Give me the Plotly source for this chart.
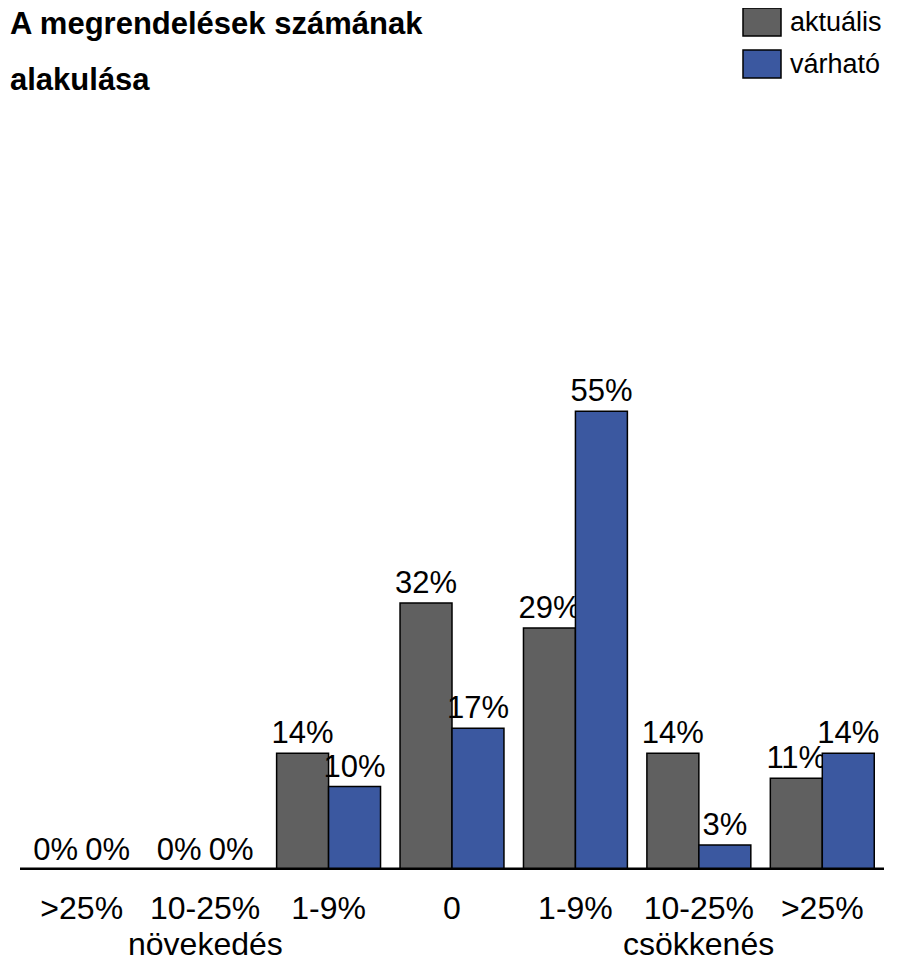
import plotly.graph_objects as go

# ============================================================================
# DATA
# ============================================================================

categories = ['>25%', '10-25%', '1-9%', '0', '1-9%', '10-25%', '>25%']
group_labels = {1: 'növekedés', 5: 'csökkenés'}

current_values = [0, 0, 14, 32, 29, 14, 11]   # aktuális
expected_values = [0, 0, 10, 17, 55, 3, 14]   # várható

series_names = ['aktuális', 'várható']
title_lines = ['<b>A megrendelések számának</b>', '<b>alakulása</b>']

GRAY = '#606060'
BLUE = '#3B58A0'
FONT = 'Liberation Sans, Arial, sans-serif'

# plot area geometry (figure pixels; the page body adds an 8px offset)
W, H = 910, 962
M_L, M_R, M_T, M_B = 12, 34, 112, 100
PW, PH = W - M_L - M_R, H - M_T - M_B

x_pos = list(range(len(categories)))


def px_x(x):
    """figure pixel x -> paper x"""
    return (x - M_L) / PW


def px_y(y):
    """figure pixel y (from top) -> paper y"""
    return 1 + (M_T - y) / PH


# ============================================================================
# CHART
# ============================================================================

fig = go.Figure()

for name, values, color in [
    (series_names[0], current_values, GRAY),
    (series_names[1], expected_values, BLUE),
]:
    fig.add_trace(go.Bar(
        x=x_pos,
        y=values,
        name=name,
        marker=dict(color=color, line=dict(color='black', width=1.5)),
        text=[f'{v}%' for v in values],
        textposition='outside',
        constraintext='none',
        textfont=dict(size=31, color='black', family=FONT),
        cliponaxis=False,
        showlegend=False,
    ))

fig.update_layout(
    width=W,
    height=H,
    barmode='group',
    bargap=0.158,
    bargroupgap=0,
    plot_bgcolor='white',
    paper_bgcolor='white',
    font=dict(family=FONT, color='black'),
    margin=dict(l=M_L, r=M_R, t=M_T, b=M_B, autoexpand=False),
)

fig.update_xaxes(
    tickvals=x_pos,
    ticktext=categories,
    range=[-0.5, len(categories) - 0.5],
    showgrid=False,
    zeroline=False,
    showline=False,
    ticks='',
    tickfont=dict(size=32, family=FONT, color='black'),
    ticklabelstandoff=16,
)

fig.update_yaxes(range=[0, 89.9], visible=False)

# thick baseline
fig.add_shape(type='line', xref='paper', yref='y', x0=0, x1=1, y0=0, y1=0,
              line=dict(color='black', width=5))

# group labels under categories
for idx, label in group_labels.items():
    fig.add_annotation(x=idx, y=0, xref='x', yref='paper', text=label,
                       showarrow=False, yanchor='top', yshift=-54,
                       font=dict(size=32, family=FONT, color='black'))

# title (two lines)
for i, line in enumerate(title_lines):
    fig.add_annotation(x=px_x(0), y=px_y(16 + 55 * i), xref='paper', yref='paper',
                       text=line, showarrow=False, xanchor='left', yanchor='middle',
                       font=dict(size=31, family=FONT, color='black'))

# legend drawn manually with large swatches
for i, (name, color) in enumerate(zip(series_names, [GRAY, BLUE])):
    top = 42 * i
    fig.add_shape(type='rect', xref='paper', yref='paper',
                  x0=px_x(735), x1=px_x(773), y0=px_y(top + 28), y1=px_y(top),
                  fillcolor=color, line=dict(color='black', width=1.5))
    fig.add_annotation(x=px_x(780), y=px_y(top + 14), xref='paper', yref='paper',
                       text=name, showarrow=False, xanchor='left', yanchor='middle',
                       font=dict(size=27, family=FONT, color='black'))

fig.write_html('out.html')
